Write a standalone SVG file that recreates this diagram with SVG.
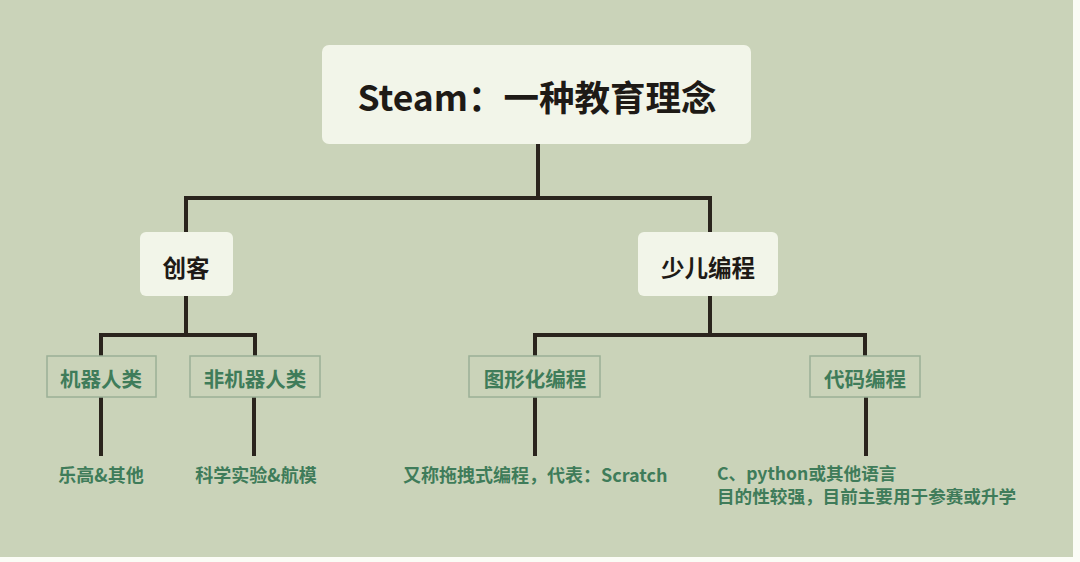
<svg xmlns="http://www.w3.org/2000/svg" width="1080" height="562" viewBox="0 0 1080 562">
<style>
.bg{fill:#cad3b9}
.box{fill:#f2f5e9}
.leaf{fill:none;stroke:#9bb096;stroke-width:1.5}
.ln{stroke:#2a241d;stroke-width:4;fill:none;stroke-linecap:butt}
.t{font-family:"Noto Sans CJK SC","Noto Sans",sans-serif;font-weight:bold;fill:#1e1a16;text-anchor:middle}
.g{font-family:"Noto Sans CJK SC","Noto Sans",sans-serif;font-weight:bold;fill:#3f7c5a}
</style>
<rect x="0" y="0" width="1080" height="562" fill="#fbfcf6"/>
<rect class="bg" x="0" y="0" width="1073" height="557"/>
<g id="connectors">
<path class="ln" d="M538 144V198M186 198H711M186 196V233M710 196V233"/>
<path class="ln" d="M186 296V335M100 335H257M101 333V356M255 333V356"/>
<path class="ln" d="M710 296V335M533 335H867M535 333V356M865 333V356"/>
<path class="ln" d="M101 397V456M254 397V456M535 397V456M866 397V456"/>
</g>
<g id="root">
<rect class="box" x="322" y="45" width="429" height="99" rx="7"/>
<text class="t" x="537" y="111" font-size="35.5">Steam：一种教育理念</text>
</g>
<g id="maker">
<rect class="box" x="140" y="232" width="93" height="64" rx="6"/>
<text class="t" x="186" y="277" font-size="23.5">创客</text>
</g>
<g id="coding">
<rect class="box" x="638" y="232" width="140" height="64" rx="6"/>
<text class="t" x="708" y="277" font-size="23.5">少儿编程</text>
</g>
<g id="robot">
<rect class="leaf" x="47" y="356" width="109" height="41"/>
<text class="g" x="101" y="387" font-size="20.5" text-anchor="middle">机器人类</text>
</g>
<g id="nonrobot">
<rect class="leaf" x="190" y="356" width="130" height="41"/>
<text class="g" x="255" y="387" font-size="20.5" text-anchor="middle">非机器人类</text>
</g>
<g id="graphic">
<rect class="leaf" x="469" y="356" width="131" height="41"/>
<text class="g" x="535" y="387" font-size="20.5" text-anchor="middle">图形化编程</text>
</g>
<g id="code">
<rect class="leaf" x="810" y="356" width="110" height="41"/>
<text class="g" x="865" y="387" font-size="20.5" text-anchor="middle">代码编程</text>
</g>
<g id="lego">
<text class="g" x="101" y="482" font-size="18" text-anchor="middle">乐高&amp;其他</text>
</g>
<g id="science">
<text class="g" x="256" y="482" font-size="18" text-anchor="middle">科学实验&amp;航模</text>
</g>
<g id="scratch">
<text class="g" x="403" y="482" font-size="18">又称拖拽式编程，代表：Scratch</text>
</g>
<g id="python">
<text class="g" x="717" y="480" font-size="17.6">C、python或其他语言</text>
<text class="g" x="717" y="503" font-size="17.6">目的性较强，目前主要用于参赛或升学</text>
</g>
</svg>
